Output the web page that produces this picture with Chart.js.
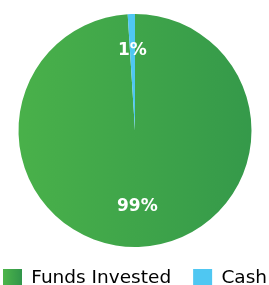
<!DOCTYPE html>
<html>
<head>
<meta charset="utf-8">
<script src="https://cdn.jsdelivr.net/npm/chart.js@4/dist/chart.umd.min.js"></script>
<style>
  html, body { margin: 0; padding: 0; background: #fff; overflow: hidden; }
  #wrap { width: 269px; height: 285px; overflow: hidden; position: relative; }
  #graph1 { position: absolute; left: -25px; top: 0; }
</style>
</head>
<body>
<div id="wrap"><canvas id="graph1" width="320" height="298"></canvas></div>
<script>
// data
var labels = ['Funds Invested', 'Cash'];
var values = [99, 1];
var pctLabels = ['99%', '1%'];

var cyan = '#4fc7f2';

function greenGrad(ctx, x0, x1) {
  var g = ctx.createLinearGradient(x0, 0, x1, 0);
  g.addColorStop(0, '#4db54a');
  g.addColorStop(1, '#31954a');
  return g;
}

// white percentage labels inside slices
var pctPlugin = {
  id: 'pct',
  afterDatasetsDraw: function(chart) {
    var c = chart.ctx;
    var meta = chart.getDatasetMeta(0);
    c.save();
    c.fillStyle = '#ffffff';
    c.font = 'bold 17px "DejaVu Sans"';
    c.textAlign = 'center';
    c.textBaseline = 'middle';
    meta.data.forEach(function(arc, i) {
      var p = arc.getProps(['x', 'y', 'startAngle', 'endAngle', 'outerRadius'], true);
      var mid = (p.startAngle + p.endAngle) / 2;
      var r = p.outerRadius * (i == 1 ? 0.69 : 0.65);
      c.fillText(pctLabels[i], p.x + Math.cos(mid) * r, p.y + Math.sin(mid) * r);
    });
    c.restore();
  }
};

document.addEventListener('DOMContentLoaded', function() {
  var ctx = document.querySelector('#graph1').getContext('2d');
  var chart = new Chart(ctx, {
    type: 'pie',
    data: {
      labels: labels,
      datasets: [{
        data: values,
        backgroundColor: function(context) {
          var ch = context.chart;
          if (context.dataIndex == 1) return cyan;
          var a = ch.chartArea;
          if (!a) return '#40a54a';
          var m = ch.getDatasetMeta(0).data[0];
          if (!m || !m.outerRadius) return greenGrad(ch.ctx, a.left, a.right);
          return greenGrad(ch.ctx, m.x - m.outerRadius, m.x + m.outerRadius);
        },
        borderWidth: 0
      }]
    },
    options: {
      responsive: false,
      animation: false,
      layout: { padding: { top: 14, left: 0, right: 0, bottom: 0 } },
      plugins: {
        tooltip: { enabled: false },
        legend: {
          position: 'bottom',
          labels: {
            boxWidth: 19,
            boxHeight: 19,
            padding: 22,
            color: '#111',
            font: { family: 'DejaVu Sans', size: 18.5 },
            generateLabels: function(ch) {
              return labels.map(function(l, i) {
                return {
                  text: l,
                  fillStyle: i == 1 ? cyan : greenGrad(ch.ctx, 28, 47),
                  strokeStyle: 'rgba(0,0,0,0)',
                  lineWidth: 0,
                  index: i
                };
              });
            }
          }
        }
      }
    },
    plugins: [pctPlugin]
  });
});
</script>
</body>
</html>
